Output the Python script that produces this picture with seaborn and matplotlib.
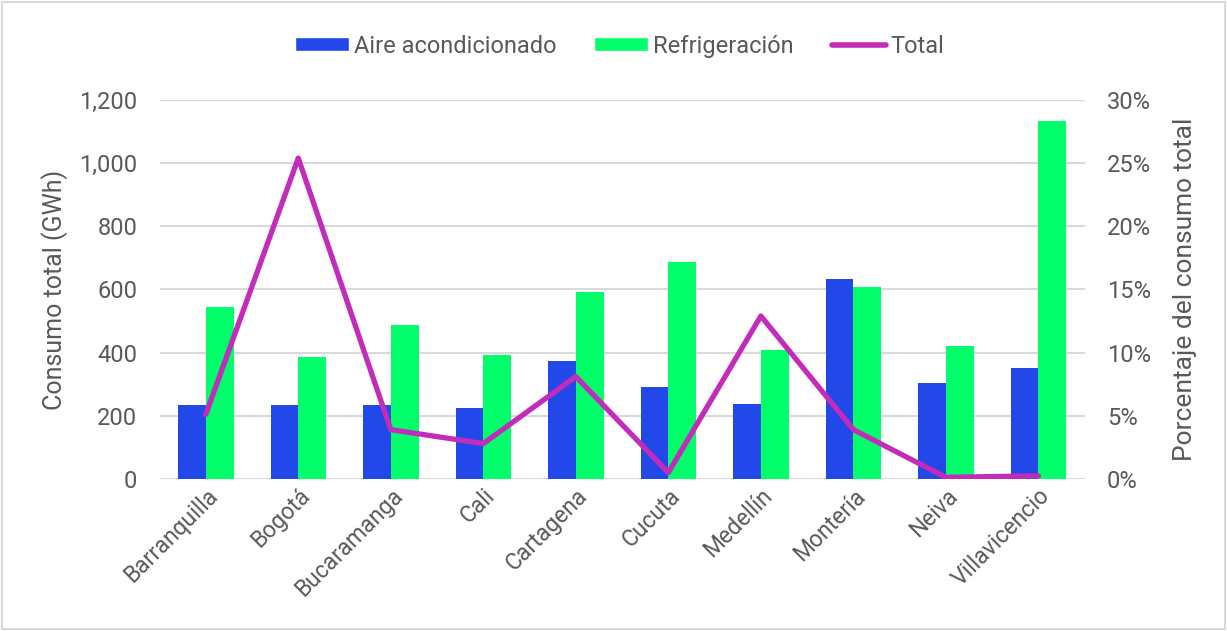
import numpy as np
import pandas as pd
import matplotlib
matplotlib.use("Agg")
import matplotlib.pyplot as plt
from matplotlib.patches import Patch, Rectangle
from matplotlib.lines import Line2D
from matplotlib.ticker import FuncFormatter, PercentFormatter
import seaborn as sns

# datos
ciudades = ["Barranquilla", "Bogotá", "Bucaramanga", "Cali", "Cartagena",
            "Cucuta", "Medellín", "Montería", "Neiva", "Villavicencio"]
aire = [234, 234, 234, 226, 372, 291, 237, 632, 303, 351]
refrigeracion = [546, 387, 489, 392, 591, 688, 408, 607, 421, 1135]
total_pct = [5.1, 25.4, 3.9, 2.8, 8.1, 0.5, 12.9, 3.9, 0.13, 0.24]

series = ["Aire acondicionado", "Refrigeración"]
colores = ["#2348EA", "#00FF6B"]
color_total = "#C32BBA"
gris = "#595959"

sns.set_theme(style="white")
plt.rcParams["font.family"] = ["Roboto", "DejaVu Sans"]

df = pd.DataFrame({
    "ciudad": ciudades * 2,
    "serie": [series[0]] * len(ciudades) + [series[1]] * len(ciudades),
    "valor": aire + refrigeracion,
})

fig = plt.figure(figsize=(12.27, 6.31), dpi=100)
ax = fig.add_axes([0.130, 0.241, 0.754, 0.6005])

sns.barplot(data=df, x="ciudad", y="valor", hue="serie", palette=colores,
            width=0.6, gap=0, saturation=1, linewidth=0, ax=ax, legend=False,
            errorbar=None)
ax.set_ylim(0, 1200)
ax.set_xlim(-0.5, 9.5)
ax.set_yticks(np.arange(0, 1201, 200))
ax.yaxis.set_major_formatter(FuncFormatter(lambda v, p: f"{v:,.0f}"))
ax.grid(axis="y", color="#d9d9d9", linewidth=1.5)
ax.set_axisbelow(True)
for s in ax.spines.values():
    s.set_visible(False)
ax.tick_params(axis="y", length=0, pad=16, labelsize=17, labelcolor=gris)
ax.tick_params(axis="x", length=0, pad=4, labelsize=16.5, labelcolor=gris)
plt.setp(ax.get_xticklabels(), rotation=45, ha="right", rotation_mode="anchor")
ax.set_xlabel("")
ax.set_ylabel("Consumo total (GWh)", fontsize=18, color=gris, labelpad=8)

ax2 = ax.twinx()
sns.lineplot(x=np.arange(len(ciudades)), y=total_pct, color=color_total,
             linewidth=3.8, ax=ax2)
ax2.set_ylim(0, 30)
ax2.set_yticks(np.arange(0, 31, 5))
ax2.yaxis.set_major_formatter(PercentFormatter(decimals=0))
for s in ax2.spines.values():
    s.set_visible(False)
ax2.tick_params(axis="y", length=0, pad=16, labelsize=17, labelcolor=gris)
ax2.set_ylabel("Porcentaje del consumo total", fontsize=19, color=gris, labelpad=16)
ax2.grid(False)

handles = [Patch(facecolor=colores[0]), Patch(facecolor=colores[1]),
           Line2D([0], [0], color=color_total, linewidth=4, solid_capstyle="round")]
fig.legend(handles, series + ["Total"], loc="center", bbox_to_anchor=(0.505, 0.927),
           ncol=3, frameon=False, fontsize=17, labelcolor=gris,
           handlelength=2.3, handleheight=0.55, handletextpad=0.2, columnspacing=1.6)

fig.patches.append(Rectangle((0.002, 0.003), 0.996, 0.994, transform=fig.transFigure,
                             fill=False, edgecolor="#d9d9d9", linewidth=1.5))

fig.savefig("out.png", dpi=100)
